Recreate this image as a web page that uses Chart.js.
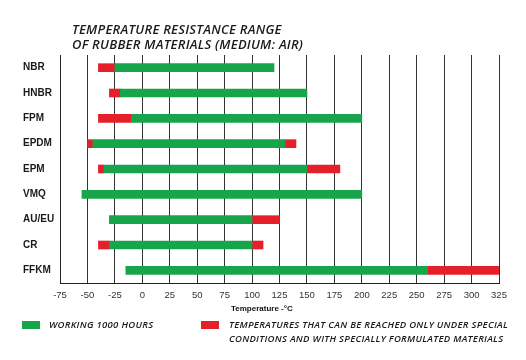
<!DOCTYPE html>
<html>
<head>
<meta charset="utf-8">
<script src="https://cdn.jsdelivr.net/npm/chart.js@4"></script>
<style>
  body { margin: 0; background: #fff; }
  #wrap { position: relative; width: 526px; height: 360px; overflow: hidden; }
  #chart { position: absolute; left: 0; top: 0; }
  .title {
    position: absolute; left: 72px; top: 22px;
    font: italic 600 13px "Open Sans", sans-serif; letter-spacing: 0.25px;
    line-height: 15px; color: #1a1a1a;
  }
  .axisTitle {
    position: absolute; left: 231px; top: 304px;
    font: bold 8px "Liberation Sans", Arial, sans-serif; color: #111;
  }
  .lg-box { position: absolute; width: 18px; height: 8px; }
  .lg-text {
    position: absolute; font: italic 600 9.5px "Open Sans", sans-serif;
    letter-spacing: 0.3px; line-height: 14px; color: #1a1a1a;
  }
</style>
</head>
<body>
<div id="wrap">
  <canvas id="chart" width="526" height="360"></canvas>
  <div class="title" id="title"></div>
  <div class="axisTitle" id="axisTitle"></div>
  <div class="lg-box" id="box0" style="left:22px; top:321px;"></div>
  <div class="lg-text" id="lg0" style="left:49px; top:318px;"></div>
  <div class="lg-box" id="box1" style="left:201px; top:321px;"></div>
  <div class="lg-text" id="lg1" style="left:229px; top:318px;"></div>
</div>
<script>
// chart data
const categories = ['NBR', 'HNBR', 'FPM', 'EPDM', 'EPM', 'VMQ', 'AU/EU', 'CR', 'FFKM'];
const workStart = [-25, -20, -10, -45, -35, -55, -30, -30, -15];
const workEnd = [120, 150, 200, 130, 150, 200, 100, 100, 260];
const specialLowStart = [-40, -30, -40, -50, -40, null, null, -40, null];
const specialHighEnd = [null, null, null, 140, 180, null, 125, 110, 325];
const xTicks = [-75, -50, -25, 0, 25, 50, 75, 100, 125, 150, 175, 200, 225, 250, 275, 300, 325];

const titleLines = ['TEMPERATURE RESISTANCE RANGE', 'OF RUBBER MATERIALS (MEDIUM: AIR)'];
const axisTitle = 'Temperature -°C';
const legendLabels = [
    'WORKING 1000 HOURS',
    'TEMPERATURES THAT CAN BE REACHED ONLY UNDER SPECIAL\nCONDITIONS AND WITH SPECIALLY FORMULATED MATERIALS'
];

const GREEN = '#16a54b';
const RED = '#e5202b';

// build ranges for floating bars
const workData = categories.map((c, i) => [workStart[i], workEnd[i]]);
const lowData = categories.map((c, i) => specialLowStart[i] == null ? null : [specialLowStart[i], workStart[i]]);
const highData = categories.map((c, i) => specialHighEnd[i] == null ? null : [workEnd[i], specialHighEnd[i]]);

document.getElementById('title').innerHTML = titleLines.join('<br>');
document.getElementById('axisTitle').textContent = axisTitle;
document.getElementById('lg0').innerHTML = legendLabels[0].replace('\n', '<br>');
document.getElementById('lg1').innerHTML = legendLabels[1].replace('\n', '<br>');
document.getElementById('box0').style.background = GREEN;
document.getElementById('box1').style.background = RED;

const barCommon = { barThickness: 8, grouped: false, borderWidth: 0, borderSkipped: false };

new Chart(document.getElementById('chart'), {
    type: 'bar',
    data: {
        labels: categories,
        datasets: [
            { label: legendLabels[0], data: workData, backgroundColor: GREEN, ...barCommon },
            { label: legendLabels[1], data: lowData, backgroundColor: RED, ...barCommon },
            { label: legendLabels[1], data: highData, backgroundColor: RED, ...barCommon },
        ],
    },
    options: {
        responsive: false,
        animation: false,
        devicePixelRatio: 1,
        indexAxis: 'y',
        layout: { padding: { left: 23, right: 27, top: 55, bottom: 57 } },
        plugins: {
            legend: { display: false },
            title: { display: false },
            tooltip: { enabled: false },
        },
        scales: {
            x: {
                min: -75,
                max: 325,
                afterBuildTicks: (scale) => {
                    scale.ticks = xTicks.map((v) => ({ value: v }));
                },
                afterFit: (scale) => { scale.height = 20; },
                grid: { color: '#333', lineWidth: 1, drawTicks: false },
                border: { display: true, color: '#222', width: 1 },
                ticks: {
                    padding: 7,
                    color: '#333',
                    font: { family: 'Liberation Sans', size: 9.5 },
                    maxRotation: 0,
                    autoSkip: false,
                },
            },
            y: {
                afterFit: (scale) => { scale.width = 37; },
                grid: { display: false },
                border: { display: true, color: '#222', width: 1 },
                ticks: {
                    crossAlign: 'far',
                    color: '#1a1a1a',
                    font: { family: 'Liberation Sans', size: 10, weight: 'bold' },
                },
            },
        },
    },
});
</script>
</body>
</html>
